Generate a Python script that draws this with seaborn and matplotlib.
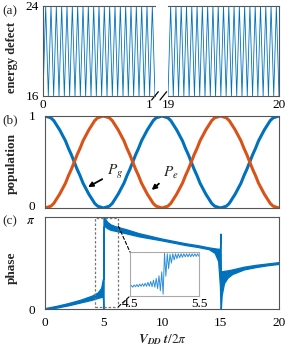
import numpy as np
import pandas as pd
import matplotlib
matplotlib.use("Agg")
import matplotlib.pyplot as plt
import seaborn as sns
from matplotlib.patches import Rectangle, ConnectionPatch
from matplotlib.transforms import ScaledTranslation

# ---------------- data ----------------
# (a) energy defect: triangle oscillation between 16 and 24
defect_t1 = np.linspace(0, 1, 43)
defect_t2 = np.linspace(19, 20, 43)
defect_v1 = [16, 24, 16, 24, 16, 24, 16, 24, 16, 24, 16, 24, 16, 24, 16, 24, 16, 24, 16, 24,
             16, 24, 16, 24, 16, 24, 16, 24, 16, 24, 16, 24, 16, 24, 16, 24, 16, 24, 16, 24,
             16, 24, 16]
defect_v2 = [16, 24, 16, 24, 16, 24, 16, 24, 16, 24, 16, 24, 16, 24, 16, 24, 16, 24, 16, 24,
             16, 24, 16, 24, 16, 24, 16, 24, 16, 24, 16, 24, 16, 24, 16, 24, 16, 24, 16, 24,
             16, 24, 16]

# (b) populations
pop_t = np.linspace(0, 20, 81)
pop_g = [1.00, 0.99, 0.98, 0.95, 0.90, 0.85, 0.79, 0.73, 0.65, 0.58, 0.50, 0.42, 0.35, 0.27, 0.21,
         0.15, 0.10, 0.05, 0.02, 0.01, 0.00, 0.01, 0.02, 0.05, 0.10, 0.15, 0.21, 0.27, 0.35, 0.42,
         0.50, 0.58, 0.65, 0.73, 0.79, 0.85, 0.90, 0.95, 0.98, 0.99, 1.00, 0.99, 0.98, 0.95, 0.90,
         0.85, 0.79, 0.73, 0.65, 0.58, 0.50, 0.42, 0.35, 0.27, 0.21, 0.15, 0.10, 0.05, 0.02, 0.01,
         0.00, 0.01, 0.02, 0.05, 0.10, 0.15, 0.21, 0.27, 0.35, 0.42, 0.50, 0.58, 0.65, 0.73, 0.79,
         0.85, 0.90, 0.95, 0.98, 0.99, 1.00]
pop_e = [0.00, 0.01, 0.02, 0.05, 0.10, 0.15, 0.21, 0.27, 0.35, 0.42, 0.50, 0.58, 0.65, 0.73, 0.79,
         0.85, 0.90, 0.95, 0.98, 0.99, 1.00, 0.99, 0.98, 0.95, 0.90, 0.85, 0.79, 0.73, 0.65, 0.58,
         0.50, 0.42, 0.35, 0.27, 0.21, 0.15, 0.10, 0.05, 0.02, 0.01, 0.00, 0.01, 0.02, 0.05, 0.10,
         0.15, 0.21, 0.27, 0.35, 0.42, 0.50, 0.58, 0.65, 0.73, 0.79, 0.85, 0.90, 0.95, 0.98, 0.99,
         1.00, 0.99, 0.98, 0.95, 0.90, 0.85, 0.79, 0.73, 0.65, 0.58, 0.50, 0.42, 0.35, 0.27, 0.21,
         0.15, 0.10, 0.05, 0.02, 0.01, 0.00]

# (c) phase (in units of pi): lower / upper envelope of the fast oscillation
phase_t = [0, 1, 2, 3, 4, 4.5, 4.8, 4.95, 4.98, 5.0, 5.03, 5.1, 5.3, 5.6, 6, 7, 8, 10, 12, 13,
           14, 14.5, 14.8, 14.95, 15.0, 15.03, 15.1, 15.3, 15.6, 16, 17, 18, 19, 20]
phase_lo = [0.0, 0.015, 0.04, 0.07, 0.10, 0.12, 0.13, 0.13, 0.0, 0.0, 0.90, 0.90, 0.88, 0.86, 0.85,
            0.82, 0.79, 0.745, 0.695, 0.675, 0.65, 0.61, 0.52, 0.25, 0.0, 0.0, 0.15, 0.28, 0.34,
            0.38, 0.43, 0.455, 0.475, 0.49]
phase_hi = [0.01, 0.035, 0.065, 0.10, 0.145, 0.18, 0.23, 0.33, 0.33, 1.0, 1.0, 0.99, 0.95, 0.92,
            0.90, 0.865, 0.825, 0.765, 0.715, 0.695, 0.67, 0.66, 0.655, 0.655, 0.82, 0.40, 0.41,
            0.415, 0.42, 0.43, 0.46, 0.48, 0.495, 0.51]

# inset: zoom of 4.5..5.5 (normalised height)
inset_t = [4.50, 4.52, 4.54, 4.56, 4.58, 4.60, 4.62, 4.64, 4.66, 4.68, 4.70, 4.72, 4.74, 4.76,
           4.78, 4.80, 4.82, 4.84, 4.86, 4.88, 4.90, 4.92, 4.94, 4.96, 4.98, 5.00, 5.02, 5.04,
           5.06, 5.08, 5.10, 5.12, 5.14, 5.16, 5.18, 5.20, 5.22, 5.24, 5.26, 5.28, 5.30, 5.32,
           5.34, 5.36, 5.38, 5.40, 5.42, 5.44, 5.46, 5.48, 5.50]
inset_v = [0.20, 0.24, 0.20, 0.25, 0.21, 0.26, 0.21, 0.27, 0.22, 0.28, 0.22, 0.29, 0.22, 0.31,
           0.22, 0.33, 0.21, 0.36, 0.20, 0.40, 0.17, 0.46, 0.12, 0.55, 0.04, 0.97, 0.45, 0.96,
           0.62, 0.95, 0.75, 0.96, 0.82, 0.96, 0.85, 0.96, 0.87, 0.96, 0.88, 0.96, 0.89, 0.96,
           0.89, 0.96, 0.89, 0.96, 0.90, 0.96, 0.90, 0.96, 0.90]

BLUE = "#0072BD"
ORANGE = "#D95319"

# ---------------- style ----------------
sns.set_style("white")
plt.rcParams["font.family"] = ["Liberation Serif", "DejaVu Serif"]
plt.rcParams["mathtext.fontset"] = "stix"

W, H = 291, 352
fig = plt.figure(figsize=(W / 100, H / 100), dpi=100)


def box(l, t, r, b):
    return [l / W, 1 - b / H, (r - l) / W, (b - t) / H]


def shift(label, dy_px):
    label.set_transform(label.get_transform()
                        + ScaledTranslation(0, dy_px / 100, fig.dpi_scale_trans))


axA1 = fig.add_axes(box(43, 6, 155, 96))
axA2 = fig.add_axes(box(168, 6, 279, 96))
axB = fig.add_axes(box(45, 116, 279, 208))
axC = fig.add_axes(box(45, 217, 279, 309))
axI = fig.add_axes(box(130, 252, 199, 296))

SPC = "#555555"
for ax in (axA1, axA2, axB, axC, axI):
    for s in ax.spines.values():
        s.set_color(SPC)
        s.set_linewidth(0.8)
    ax.tick_params(length=0, labelsize=9.5, colors="black")

# ---------------- (a) ----------------
sns.lineplot(x=defect_t1, y=defect_v1, ax=axA1, color=BLUE, lw=0.6, estimator=None)
sns.lineplot(x=defect_t2, y=defect_v2, ax=axA2, color=BLUE, lw=0.6, estimator=None)
axA1.set_xlim(0, 1)
axA2.set_xlim(19, 20)
for ax in (axA1, axA2):
    ax.set_ylim(16, 24)
axA1.set_yticks([16, 24])
axA1.set_xticks([0, 1])
axA2.set_yticks([])
axA2.set_xticks([19, 20])
axA1.spines["right"].set_visible(False)
axA2.spines["left"].set_visible(False)
axA1.tick_params(axis="x", pad=2.5)
axA2.tick_params(axis="x", pad=2.5)
axA1.tick_params(axis="y", pad=3)
lab1 = axA1.get_xticklabels()[-1]
lab1.set_transform(lab1.get_transform() + ScaledTranslation(-0.06, 0, fig.dpi_scale_trans))
# break marks
axA1.plot([0.97, 1.03], [-0.044, 0.048], transform=axA1.transAxes, color="k", lw=0.9, clip_on=False)
axA2.plot([-0.072, -0.012], [-0.044, 0.048], transform=axA2.transAxes, color="k", lw=0.9, clip_on=False)

# ---------------- (b) ----------------
sns.lineplot(x=pop_t, y=pop_g, ax=axB, color=BLUE, lw=2.2, estimator=None)
sns.lineplot(x=pop_t, y=pop_e, ax=axB, color=ORANGE, lw=2.2, estimator=None)
axB.set_xlim(0, 20)
axB.set_ylim(0, 1)
axB.set_yticks([0, 1])
axB.set_xticks([])
axB.tick_params(axis="y", pad=7)
shift(axB.get_yticklabels()[0], 2)
arrow = dict(arrowstyle="-|>", color="k", lw=1.3, mutation_scale=7, shrinkA=1, shrinkB=0)
axB.annotate("$P_g$", xy=(3.68, 0.228), xytext=(5.27, 0.39), ha="left", va="center",
             fontsize=11, arrowprops=arrow)
axB.annotate("$P_e$", xy=(9.12, 0.196), xytext=(10.11, 0.38), ha="left", va="center",
             fontsize=11, arrowprops=arrow)

# ---------------- (c) ----------------
axC.fill_between(phase_t, phase_lo, phase_hi, color=BLUE, lw=0.9, edgecolor=BLUE)
axC.set_xlim(0, 20)
axC.set_ylim(0, 1)
axC.set_xticks([0, 5, 10, 15, 20])
axC.set_yticks([0, 1])
axC.set_yticklabels(["0", r"$\pi$"])
axC.tick_params(axis="y", pad=7)
axC.tick_params(axis="x", pad=6)
shift(axC.get_yticklabels()[1], -2)
axC.add_patch(Rectangle((4.27, 0.025), 2.0, 0.965, fill=False, ls=(0, (2, 1.5)),
                        ec="#777777", lw=0.9, zorder=3))

# inset
sns.lineplot(x=inset_t, y=inset_v, ax=axI, color="#2F8FD8", lw=0.7, estimator=None)
axI.set_xlim(4.5, 5.5)
axI.set_ylim(0, 1)
axI.set_xticks([4.5, 5.5])
axI.set_xticklabels(["4.5", "5.5"])
axI.set_yticks([])
axI.tick_params(axis="x", pad=1.5)
for s in axI.spines.values():
    s.set_color("#aaaaaa")

for xyA, xyB in (((6.27, 0.9), (0, 1)), ((6.27, 0.025), (0, 0))):
    con = ConnectionPatch(xyA=xyA, coordsA=axC.transData, xyB=xyB, coordsB=axI.transAxes,
                          ls=(0, (3, 2)), color="k", lw=0.8)
    fig.add_artist(con)

# ---------------- labels ----------------
fig.text(2 / W, 1 - 11 / H, "(a)", fontsize=9.5, va="center", ha="left")
fig.text(2 / W, 1 - 120 / H, "(b)", fontsize=9.5, va="center", ha="left")
fig.text(2 / W, 1 - 221 / H, "(c)", fontsize=9.5, va="center", ha="left")
fig.text(12 / W, 1 - 57 / H, "energy defect", rotation=90, fontsize=9, fontweight="bold",
         ha="center", va="center")
fig.text(12 / W, 1 - 163 / H, "population", rotation=90, fontsize=9.5, fontweight="bold",
         ha="center", va="center")
fig.text(12 / W, 1 - 268 / H, "phase", rotation=90, fontsize=9.5, fontweight="bold",
         ha="center", va="center")
fig.text(162 / W, 1 - 340 / H, r"$\mathbfit{V}_{\mathbfit{DD}}\;\mathbfit{t}/2\pi$",
         fontsize=9.5, ha="center", va="center")

fig.savefig("out.png", dpi=100)
